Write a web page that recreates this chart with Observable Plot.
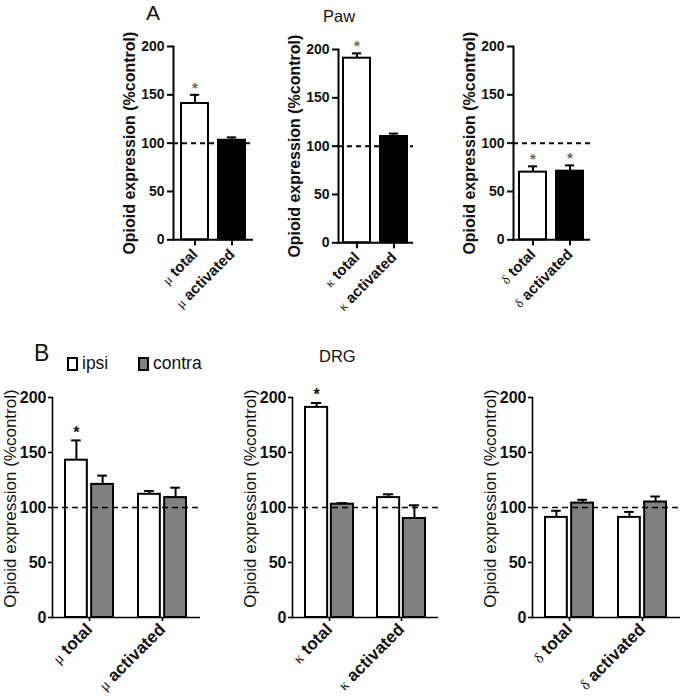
<!DOCTYPE html>
<html>
<head>
<meta charset="utf-8">
<script src="https://cdn.jsdelivr.net/npm/d3@7"></script>
<script src="https://cdn.jsdelivr.net/npm/@observablehq/plot@0.6"></script>
<style>
  html, body { margin: 0; padding: 0; background: #fff; }
  #chart { position: relative; width: 686px; height: 699px; font-family: "Liberation Sans", Arial, sans-serif; overflow: hidden; }
  #chart svg { position: absolute; overflow: visible; }
  .lbl { position: absolute; white-space: nowrap; color: #111; }
  .box { position: absolute; border: 2px solid #000; box-sizing: border-box; }
</style>
</head>
<body>
<div id="chart"></div>
<script>
// ---------------- data ----------------
const receptors = ["μ", "κ", "δ"];
const measures = ["total", "activated"];
const yTicks = [0, 50, 100, 150, 200];
const controlLevel = 100;
const yTitle = "Opioid expression (%control)";

// Panel A (Paw): mean and SEM per receptor [total, activated]
const pawMean = [[141, 103], [191, 110], [70, 71]];
const pawErr  = [[9, 3], [5, 3], [6, 6]];
const pawSig  = [[true, false], [true, false], [true, true]];

// Panel B (DRG): ipsi / contra
const sides = ["ipsi", "contra"];
const drgIpsiMean   = [[143, 112], [191, 109], [91, 91]];
const drgIpsiErr    = [[18, 3], [4, 3], [6, 5]];
const drgIpsiSig    = [[true, false], [true, false], [false, false]];
const drgContraMean = [[121, 109], [103, 90], [104, 105]];
const drgContraErr  = [[8, 9], [1, 12], [3, 5]];
const drgContraSig  = [[false, false], [false, false], [false, false]];

const FONT = "'Liberation Sans', Arial, sans-serif";
const chart = document.getElementById("chart");

function postStyle(svg, cfg) {
  svg.querySelectorAll('g[aria-label="y-axis tick label"]').forEach(g => {
    g.setAttribute("font-size", cfg.yFont);
    g.setAttribute("font-weight", "bold");
    g.querySelectorAll("text").forEach(t => {
      t.style.fontWeight = "bold";
      t.style.fontSize = cfg.yFont + "px";
    });
  });
  svg.querySelectorAll('g[aria-label="x-axis tick label"]').forEach(g => {
    g.setAttribute("font-size", cfg.xFont);
    g.setAttribute("font-weight", "bold");
  });
  svg.querySelectorAll('g[aria-label="x-axis tick label"] text').forEach(t => {
    const s = t.textContent;
    const greek = s.slice(0, 1), rest = s.slice(1);
    while (t.firstChild) t.removeChild(t.firstChild);
    const ns = "http://www.w3.org/2000/svg";
    const a = document.createElementNS(ns, "tspan");
    a.setAttribute("font-weight", "normal");
    a.setAttribute("font-size", "0.88em");
    a.setAttribute("font-family", "'Liberation Serif', 'DejaVu Serif', serif");
    a.textContent = greek;
    const b = document.createElementNS(ns, "tspan");
    b.setAttribute("font-weight", "bold");
    b.textContent = rest;
    t.appendChild(a); t.appendChild(b);
  });
}

const M = {ml: 70, mr: 12, mt: 24, mb: 100};

function panel(cfg) {
  const {rows, x0, x1, y200, y0, grouped, pi, po} = cfg;
  const fw = x1 - x0, fh = y0 - y200;
  const width = M.ml + fw + M.mr, height = M.mt + fh + M.mb;
  const cats = [...new Set(rows.map(d => d.cat))];
  const n = cats.length;
  const step = fw / (n - pi + 2 * po);
  const bw = step * (1 - pi);
  const gap = 4;
  const half = bw / 2;
  const off = grouped ? (half + gap / 2) / 2 : 0;
  const capW = cfg.capW;
  const marks = [];
  const series = grouped ? sides : [null];
  series.forEach((s, si) => {
    const data = grouped ? rows.filter(d => d.side === s) : rows;
    const dx = grouped ? (si === 0 ? -off : off) : 0;
    const barOpts = {
      x: "cat", y: "v", fill: d => d.fill, stroke: "#000", strokeWidth: cfg.sw
    };
    if (grouped) {
      if (si === 0) barOpts.insetRight = half + gap / 2; else barOpts.insetLeft = half + gap / 2;
    }
    marks.push(Plot.ruleX(data, {x: "cat", y1: "v", y2: d => d.v + d.e, dx, stroke: "#000", strokeWidth: cfg.ew}));
    marks.push(Plot.tickY(data, {x: "cat", y: d => d.v + d.e, dx, inset: (bw - capW) / 2, stroke: "#000", strokeWidth: cfg.ew}));
    marks.push(Plot.barY(data, barOpts));
    marks.push(Plot.text(data.filter(d => d.sig), {
      x: "cat", y: d => d.v + d.e, text: () => "*", dx, dy: cfg.starDy,
      fill: cfg.starColor, fontSize: cfg.starSize, fontFamily: FONT, fontWeight: "bold"
    }));
  });
  marks.push(Plot.ruleY([controlLevel], {stroke: "#000", strokeWidth: cfg.dashW, strokeDasharray: cfg.dash}));
  marks.push(Plot.ruleY([0], {stroke: "#000", strokeWidth: cfg.aw}));
  marks.push(Plot.frame({anchor: "left", stroke: "#000", strokeWidth: cfg.aw}));
  marks.push(Plot.axisY({ticks: yTicks, tickSize: cfg.tickSize, tickPadding: cfg.yPad, strokeWidth: cfg.aw,
    fontSize: cfg.yFont, fontWeight: "bold", fontFamily: FONT, label: null, fill: "#111"}));
  marks.push(Plot.axisX({tickSize: cfg.tickSize, tickPadding: cfg.xPad, tickRotate: -45, strokeWidth: cfg.aw,
    fontSize: cfg.xFont, fontWeight: "bold", fontFamily: FONT, label: null, fill: "#111"}));
  marks.push(Plot.text([yTitle], {
    text: d => d, frameAnchor: "left", rotate: -90, dx: -cfg.titleDx, dy: cfg.titleDy || 0,
    textAnchor: "middle", lineAnchor: "middle",
    fontSize: cfg.titleFont, fontWeight: cfg.titleWeight, fontFamily: FONT, fill: "#111"
  }));
  const svg = Plot.plot({
    width, height,
    marginLeft: M.ml, marginRight: M.mr, marginTop: M.mt, marginBottom: M.mb,
    style: {fontFamily: FONT, background: "transparent", overflow: "visible"},
    x: {domain: cats, paddingInner: pi, paddingOuter: po, axis: null},
    y: {domain: [0, 200], axis: null},
    marks
  });
  postStyle(svg, cfg);
  svg.style.left = (x0 - M.ml) + "px";
  svg.style.top = (y200 - M.mt) + "px";
  chart.appendChild(svg);
}

// ----- top row (Paw) -----
const topGeom = [
  {x0: 173, x1: 253, y200: 45.7, y0: 239, po: 0.2},
  {x0: 338, x1: 413, y200: 48.7, y0: 242, po: 0.13},
  {x0: 513, x1: 590, y200: 45.7, y0: 239, po: 0.15}
];
receptors.forEach((r, i) => {
  const rows = measures.map((m, j) => ({
    cat: `${r} ${m}`, v: pawMean[i][j], e: pawErr[i][j], sig: pawSig[i][j],
    fill: j === 0 ? "#fff" : "#000"
  }));
  panel({rows, ...topGeom[i], grouped: false, pi: 0.26, capW: 10,
    sw: 2, ew: 2, aw: 2, dashW: 2, dash: "5,4", tickSize: 6, yPad: 3, xPad: 6,
    yFont: 14, xFont: 15, titleFont: 16, titleWeight: "bold", titleDx: 44,
    starColor: "#666", starSize: 15, starDy: -7});
});

// ----- bottom row (DRG) -----
const botGeom = [
  {x0: 52, x1: 200, y200: 397, y0: 617},
  {x0: 292, x1: 438, y200: 397, y0: 617},
  {x0: 532, x1: 680, y200: 397, y0: 617}
];
receptors.forEach((r, i) => {
  const rows = [];
  measures.forEach((m, j) => {
    rows.push({cat: `${r} ${m}`, side: "ipsi", v: drgIpsiMean[i][j], e: drgIpsiErr[i][j], sig: drgIpsiSig[i][j], fill: "#fff"});
    rows.push({cat: `${r} ${m}`, side: "contra", v: drgContraMean[i][j], e: drgContraErr[i][j], sig: drgContraSig[i][j], fill: "#808080"});
  });
  panel({rows, ...botGeom[i], grouped: true, pi: 0.34, po: 0.18, capW: 10,
    sw: 2, ew: 2, aw: 1.6, dashW: 1.6, dash: "6,4", tickSize: 4, yPad: 2, xPad: 5,
    yFont: 16, xFont: 17, titleFont: 17, titleWeight: "normal", titleDx: 42, titleDy: -9,
    starColor: "#111", starSize: 16, starDy: -8});
});

// ----- headings & legend -----
function label(text, left, top, size, extra) {
  const d = document.createElement("div");
  d.className = "lbl";
  d.textContent = text;
  d.style.left = left + "px";
  d.style.top = top + "px";
  d.style.fontSize = size + "px";
  if (extra) Object.assign(d.style, extra);
  chart.appendChild(d);
}
label("A", 146, 1, 21);
label("Paw", 323, 7, 16.5);
label("B", 34, 340, 23);
label("DRG", 319, 347, 16.5);
const legendFills = ["#fff", "#808080"];
const legendX = [67, 138];
sides.forEach((s, i) => {
  const b = document.createElement("div");
  b.className = "box";
  b.style.left = legendX[i] + "px";
  b.style.top = "357px";
  b.style.width = "11px";
  b.style.height = "14px";
  b.style.background = legendFills[i];
  chart.appendChild(b);
  label(s, legendX[i] + 15, 353, 17.5);
});
</script>
</body>
</html>
